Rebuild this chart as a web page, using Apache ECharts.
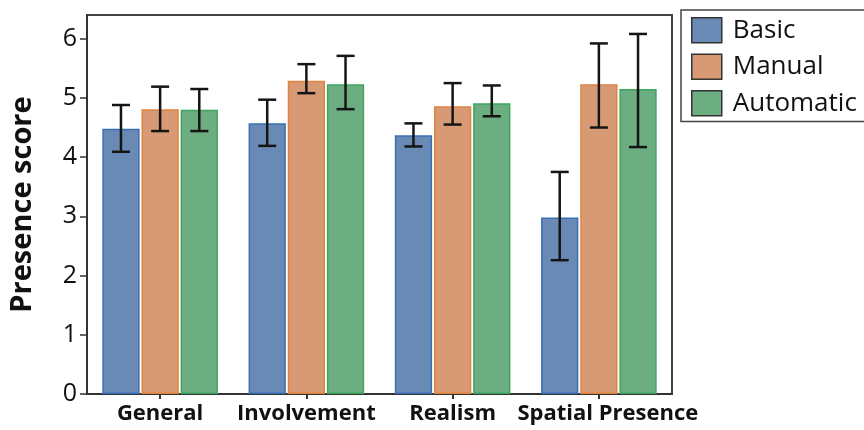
<!DOCTYPE html>
<html>
<head>
<meta charset="utf-8">
<script src="https://cdn.jsdelivr.net/npm/echarts@6/dist/echarts.min.js"></script>
<style>
  html, body { margin: 0; padding: 0; background: #fff; }
  #chart { width: 864px; height: 430px; }
</style>
</head>
<body>
<div id="chart"></div>
<script>
// data
const categories = ['General', 'Involvement', 'Realism', 'Spatial Presence']
const seriesNames = ['Basic', 'Manual', 'Automatic']

const basicMean = [4.48, 4.57, 4.37, 2.98]
const basicLow = [4.09, 4.19, 4.18, 2.26]
const basicHigh = [4.88, 4.97, 4.57, 3.75]

const manualMean = [4.81, 5.29, 4.86, 5.23]
const manualLow = [4.44, 5.08, 4.55, 4.50]
const manualHigh = [5.19, 5.57, 5.25, 5.92]

const autoMean = [4.80, 5.23, 4.91, 5.15]
const autoLow = [4.44, 4.81, 4.69, 4.17]
const autoHigh = [5.15, 5.71, 5.21, 6.08]

const yTicks = [0, 1, 2, 3, 4, 5, 6]

const fills = ['#6a8ab6', '#d79a75', '#6cad81']
const borders = ['#3b6fb3', '#e0833f', '#3fa661']

const means = [basicMean, manualMean, autoMean]
const lows = [basicLow, manualLow, autoLow]
const highs = [basicHigh, manualHigh, autoHigh]

const BAR_FRAC = 0.255
const GAP_FRAC = 0.05

const chart = echarts.init(document.getElementById('chart'))
const font = '"Open Sans", "Liberation Sans", sans-serif'

// error bars drawn with a custom series, offset to sit on each bar
const errorSeries = seriesNames.map((name, si) => ({
  type: 'custom',
  name: name + ' err',
  z: 5,
  silent: true,
  data: categories.map((_, ci) => [ci, lows[si][ci], highs[si][ci]]),
  renderItem: (params, api) => {
    const ci = api.value(0)
    const lo = api.coord([ci, api.value(1)])
    const hi = api.coord([ci, api.value(2)])
    const catW = api.size([1, 0])[0]
    const bw = catW * BAR_FRAC
    const x = lo[0] + (si - 1) * (bw * (1 + GAP_FRAC))
    const cap = 9
    const style = { stroke: '#151515', lineWidth: 2.5 }
    return {
      type: 'group',
      children: [
        { type: 'line', shape: { x1: x, y1: hi[1], x2: x, y2: lo[1] }, style },
        { type: 'line', shape: { x1: x - cap, y1: hi[1], x2: x + cap, y2: hi[1] }, style },
        { type: 'line', shape: { x1: x - cap, y1: lo[1], x2: x + cap, y2: lo[1] }, style },
      ],
    }
  },
}))

const barSeries = seriesNames.map((name, si) => ({
  type: 'bar',
  name: name,
  data: means[si],
  barWidth: (BAR_FRAC * 100) + '%',
  barGap: (GAP_FRAC * 100) + '%',
  itemStyle: {
    color: fills[si],
    borderColor: borders[si],
    borderWidth: 1.5,
  },
  z: 2,
}))

chart.setOption({
  animation: false,
  grid: {
    left: 87,
    right: 192,
    top: 15,
    bottom: 36,
    show: true,
    borderColor: '#444',
    borderWidth: 2,
    backgroundColor: 'transparent',
  },
  legend: {
    data: seriesNames.map((n, i) => ({
      name: n,
      icon: 'rect',
      itemStyle: { color: fills[i], borderColor: '#333', borderWidth: 1.5 },
    })),
    orient: 'vertical',
    left: 681,
    top: 10,
    padding: [7, 10, 5, 10],
    itemWidth: 30,
    itemHeight: 25,
    itemGap: 10,
    borderColor: '#444',
    borderWidth: 1.5,
    borderRadius: 0,
    textStyle: { fontFamily: font, fontSize: 26, color: '#111', padding: [0, 0, 0, 6] },
  },
  xAxis: {
    type: 'category',
    data: categories.map((c, i) => (i === 3 ? { value: c, textStyle: { padding: [0, 0, 0, 18] } } : c)),
    axisLine: { show: true, lineStyle: { color: '#333', width: 2 } },
    axisTick: { show: true, alignWithLabel: true, length: 5, lineStyle: { color: '#333', width: 2 } },
    axisLabel: {
      interval: 0,
      color: '#111',
      fontFamily: font,
      fontWeight: 'bold',
      fontSize: 22,
      margin: 9,
    },
  },
  yAxis: {
    type: 'value',
    min: 0,
    max: 6.4,
    interval: 1,
    name: 'Presence score',
    nameLocation: 'middle',
    nameGap: 50,
    nameTextStyle: {
      color: '#111',
      fontFamily: font,
      fontWeight: 'bold',
      fontSize: 29,
    },
    axisLine: { show: true, lineStyle: { color: '#333', width: 2 } },
    axisTick: { show: true, length: 7, lineStyle: { color: '#333', width: 1.5 }, customValues: yTicks },
    axisLabel: {
      color: '#111',
      fontFamily: font,
      fontSize: 25,
      margin: 10,
      customValues: yTicks,
    },
    splitLine: { show: false },
  },
  series: [...barSeries, ...errorSeries],
})
</script>
</body>
</html>
